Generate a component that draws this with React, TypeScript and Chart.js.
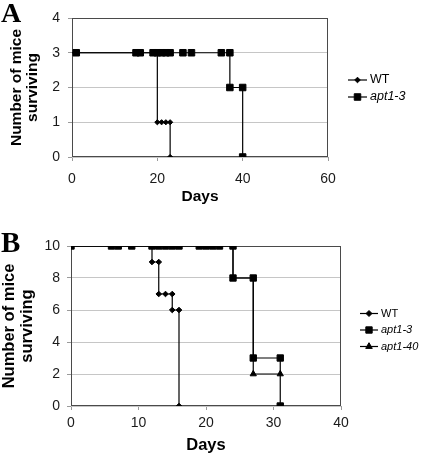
import React, { useEffect, useRef } from 'react';
import { Chart, registerables } from 'chart.js';

Chart.register(...registerables);

// ---------- Data ----------
const daysA_WT = [0, 20, 20, 21, 22, 23, 23];
const miceA_WT = [3, 3, 1, 1, 1, 1, 0];
const daysA_apt13 = [0, 1, 15, 16, 19, 20, 21, 22, 23, 26, 28, 35, 37, 37, 40, 40];
const miceA_apt13 = [3, 3, 3, 3, 3, 3, 3, 3, 3, 3, 3, 3, 3, 2, 2, 0];

const daysB_WT = [0, 12, 12, 13, 13, 14, 15, 15, 16, 16];
const miceB_WT = [10, 10, 9, 9, 7, 7, 7, 6, 6, 0];
const daysB_apt13 = [0, 6, 7, 9, 12, 13, 14, 15, 16, 19, 20, 21, 22, 24, 24, 27, 27, 31, 31];
const miceB_apt13 = [10, 10, 10, 10, 10, 10, 10, 10, 10, 10, 10, 10, 10, 10, 8, 8, 3, 3, 0];
const daysB_apt140 = [0, 24, 24, 27, 27, 31];
const miceB_apt140 = [10, 10, 8, 8, 2, 2];

const xTicksA = [0, 20, 40, 60];
const yTicksA = [0, 1, 2, 3, 4];
const xTicksB = [0, 10, 20, 30, 40];
const yTicksB = [0, 2, 4, 6, 8, 10];

const labelsA = ['WT', 'apt1-3'];
const labelsB = ['WT', 'apt1-3', 'apt1-40'];
const yTitleLines = ['Number of mice', 'surviving'];
const xTitleText = 'Days';
const panelLetters = ['A', 'B'];

// ---------- Helpers ----------
const SANS = '"Liberation Sans", Arial, Helvetica, sans-serif';
const SERIF = '"Liberation Serif", "Times New Roman", serif';

const zip = (xs: number[], ys: number[]) => xs.map((x, i) => ({ x, y: ys[i] }));

function drawMarker(ctx: CanvasRenderingContext2D, style: string, x: number, y: number, r: number) {
  ctx.beginPath();
  if (style === 'rect') {
    const s = Math.SQRT1_2 * r;
    ctx.rect(x - s, y - s, 2 * s, 2 * s);
  } else if (style === 'rectRot') {
    ctx.moveTo(x - r, y);
    ctx.lineTo(x, y - r);
    ctx.lineTo(x + r, y);
    ctx.lineTo(x, y + r);
    ctx.closePath();
  } else if (style === 'triangle') {
    let rad = 0;
    ctx.moveTo(x + Math.sin(rad) * r, y - Math.cos(rad) * r);
    rad += (2 * Math.PI) / 3;
    ctx.lineTo(x + Math.sin(rad) * r, y - Math.cos(rad) * r);
    rad += (2 * Math.PI) / 3;
    ctx.lineTo(x + Math.sin(rad) * r, y - Math.cos(rad) * r);
    ctx.closePath();
  }
  ctx.fill();
  ctx.stroke();
}

const panelPlugin = {
  id: 'panel',
  beforeDatasetsDraw(chart: any, _args: any, opts: any) {
    const { ctx, chartArea: a } = chart;
    ctx.save();
    ctx.strokeStyle = opts.frameColor;
    ctx.lineWidth = 1;
    const l = Math.round(a.left) + 0.5;
    const t = Math.round(a.top) + 0.5;
    const r = Math.round(a.right) - 0.5;
    const b = Math.round(a.bottom) - 0.5;
    ctx.strokeRect(l, t, r - l, b - t);
    ctx.restore();
  },
  afterDraw(chart: any, _args: any, opts: any) {
    const { ctx } = chart;
    ctx.save();
    // panel letter
    ctx.fillStyle = '#000';
    ctx.font = `bold ${opts.letterSize}px ${SERIF}`;
    ctx.textBaseline = 'alphabetic';
    ctx.textAlign = 'left';
    ctx.fillText(opts.letter, opts.letterX, opts.letterY);
    // legend
    const lg = opts.legend;
    chart.data.datasets.forEach((ds: any, i: number) => {
      const y = lg.rows[i];
      ctx.strokeStyle = '#000';
      ctx.fillStyle = '#000';
      ctx.lineWidth = 1.2;
      ctx.beginPath();
      ctx.moveTo(lg.x0, y);
      ctx.lineTo(lg.x1, y);
      ctx.stroke();
      ctx.lineWidth = 1;
      drawMarker(ctx, ds.pointStyle, lg.mx, y, lg.markerR[i]);
      ctx.font = `${ds.label === 'WT' ? '' : 'italic '}${lg.fontSize}px ${SANS}`;
      ctx.textBaseline = 'middle';
      ctx.fillText(ds.label, lg.tx, y);
    });
    ctx.restore();
  },
};

function buildScales(xt: number[], yt: number[], c: any) {
  return {
    x: {
      type: 'linear',
      min: xt[0],
      max: xt[xt.length - 1],
      afterBuildTicks: (s: any) => {
        s.ticks = xt.map((v) => ({ value: v }));
      },
      afterFit: (s: any) => {
        s.height = c.xHeight;
      },
      grid: { drawOnChartArea: false, drawTicks: true, tickLength: 4, tickColor: '#9a9a9a' },
      border: { display: false },
      ticks: { padding: c.xTickPad, color: '#1a1a1a', font: { size: 14, family: SANS }, maxRotation: 0 },
      title: {
        display: true,
        text: xTitleText,
        color: '#000',
        font: { size: c.titleSize, weight: 'bold', family: SANS, lineHeight: 1.2 },
        padding: { top: 0, bottom: c.xTitlePad },
      },
    },
    y: {
      type: 'linear',
      min: yt[0],
      max: yt[yt.length - 1],
      afterBuildTicks: (s: any) => {
        s.ticks = yt.map((v) => ({ value: v }));
      },
      afterFit: (s: any) => {
        s.width = c.yWidth;
      },
      grid: { color: '#c6c6c6', lineWidth: 1, drawTicks: true, tickLength: 4, tickColor: '#9a9a9a' },
      border: { display: false },
      ticks: { padding: c.yTickPad, color: '#1a1a1a', font: { size: 14, family: SANS } },
      title: {
        display: true,
        text: yTitleLines,
        color: '#000',
        font: { size: c.titleSize, weight: 'bold', family: SANS, lineHeight: c.yTitleLH },
        padding: { top: c.yTitlePad, bottom: 0 },
      },
    },
  };
}

function lineDs(label: string, xs: number[], ys: number[], style: string, r: any, order: number) {
  return {
    label,
    data: zip(xs, ys),
    showLine: true,
    borderColor: '#000',
    backgroundColor: '#000',
    borderWidth: 1.2,
    pointStyle: style,
    pointRadius: r,
    pointBorderWidth: 1,
    pointBorderColor: '#000',
    pointBackgroundColor: '#000',
    order,
  };
}

function makeConfigA(): any {
  return {
    type: 'scatter',
    data: {
      datasets: [
        lineDs(labelsA[0], daysA_WT, miceA_WT, 'rectRot', (c: any) => (c.dataIndex === 0 ? 0 : 2.6), 1),
        lineDs(labelsA[1], daysA_apt13, miceA_apt13, 'rect', (c: any) => (c.dataIndex === 0 ? 0 : 4.6), 0),
      ],
    },
    options: {
      responsive: false,
      animation: false,
      layout: { padding: { top: 18, left: 0, right: 97, bottom: 0 } },
      scales: buildScales(xTicksA, yTicksA, {
        xHeight: 53, yWidth: 72, xTickPad: 9.5, yTickPad: 8, xTitlePad: 3.5,
        titleSize: 15.5, yTitleLH: '16.5px', yTitlePad: 8,
      }),
      plugins: {
        legend: { display: false },
        tooltip: { enabled: false },
        panel: {
          frameColor: '#4a4a4a',
          letter: panelLetters[0], letterSize: 28, letterX: 1, letterY: 21.7,
          legend: { rows: [80, 97], x0: 348, x1: 367, mx: 357.5, tx: 370, fontSize: 12.5, markerR: [2.8, 4.6] },
        },
      },
    },
    plugins: [panelPlugin],
  };
}

function makeConfigB(): any {
  return {
    type: 'scatter',
    data: {
      datasets: [
        lineDs(labelsB[0], daysB_WT, miceB_WT, 'rectRot', 2.8, 1),
        lineDs(labelsB[1], daysB_apt13, miceB_apt13, 'rect', 4.5, 0),
        lineDs(labelsB[2], daysB_apt140, miceB_apt140, 'triangle', (c: any) => (c.dataIndex >= 4 ? 3.6 : 0), 2),
      ],
    },
    options: {
      responsive: false,
      animation: false,
      layout: { padding: { top: 31, left: 0, right: 84, bottom: 0 } },
      scales: buildScales(xTicksB, yTicksB, {
        xHeight: 51, yWidth: 71, xTickPad: 4.5, yTickPad: 7, xTitlePad: 2,
        titleSize: 16.5, yTitleLH: '18px', yTitlePad: 0,
      }),
      plugins: {
        legend: { display: false },
        tooltip: { enabled: false },
        panel: {
          frameColor: '#4a4a4a',
          letter: panelLetters[1], letterSize: 29, letterX: 1, letterY: 36.7,
          legend: { rows: [98.5, 115, 131.5], x0: 360, x1: 378, mx: 369, tx: 381, fontSize: 11, markerR: [3, 4.5, 3.8] },
        },
      },
    },
    plugins: [panelPlugin],
  };
}

function ChartCanvas({ make, top, height }: { make: () => any; top: number; height: number }) {
  const ref = useRef<HTMLCanvasElement | null>(null);
  useEffect(() => {
    if (!ref.current) return;
    const chart = new Chart(ref.current, make());
    return () => chart.destroy();
  }, [make]);
  return (
    <canvas
      ref={ref}
      width={425}
      height={height}
      style={{ position: 'absolute', left: 0, top, width: 425, height, display: 'block' }}
    />
  );
}

export default function App() {
  Chart.defaults.font.family = SANS;
  return (
    <div style={{ position: 'absolute', left: 0, top: 0, width: 425, height: 457, background: '#fff' }}>
      <ChartCanvas make={makeConfigA} top={0} height={210} />
      <ChartCanvas make={makeConfigB} top={215} height={242} />
    </div>
  );
}
